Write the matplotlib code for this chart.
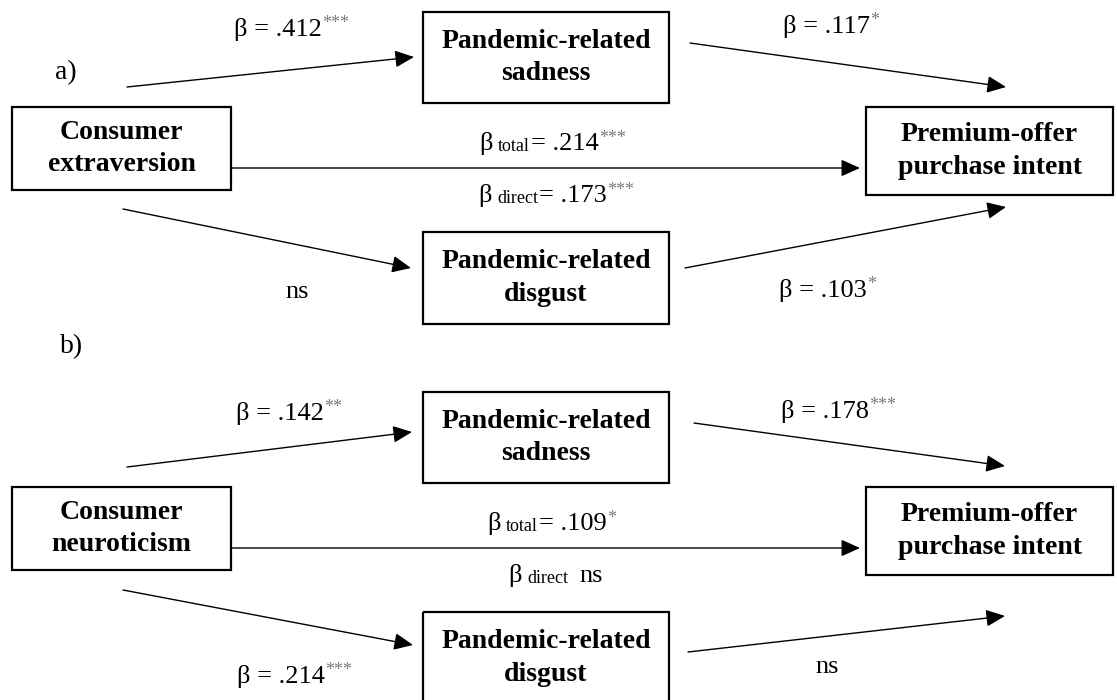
import matplotlib.pyplot as plt
from matplotlib.patches import Rectangle

# Données du schéma (deux panneaux)
panel_tags = ['a)', 'b)']
predictors = ['Consumer\nextraversion', 'Consumer\nneuroticism']
mediators = ['Pandemic-related\nsadness', 'Pandemic-related\ndisgust']
outcome = 'Premium-offer\npurchase intent'

beta_to_sadness = ['.412', '.142']
stars_to_sadness = ['***', '**']
beta_sadness_out = ['.117', '.178']
stars_sadness_out = ['*', '***']
beta_to_disgust = ['ns', '.214']
stars_to_disgust = ['', '***']
beta_disgust_out = ['.103', 'ns']
stars_disgust_out = ['*', '']
beta_total = ['.214', '.109']
stars_total = ['***', '*']
beta_direct = ['.173', 'ns']
stars_direct = ['***', '']

plt.rcParams['font.family'] = ['Liberation Serif', 'DejaVu Serif']

FS = 19        # taille du texte
FS_SUB = 13    # indices
FS_STAR = 13   # etoiles
STAR = '#7a7a7a'

fig = plt.figure(figsize=(11.17, 7), dpi=100)
ax = fig.add_axes([0, 0, 1, 1])
ax.set_xlim(0, 1117)
ax.set_ylim(700, 0)
ax.axis('off')


def chain(x, y, parts):
    # parts : (texte, taille, couleur, type, ecart)
    txt, size, color, kind, gap = parts[0]
    prev = ax.text(x, y, txt, fontsize=size, color=color, ha='left', va='baseline')
    for txt, size, color, kind, gap in parts[1:]:
        if not txt:
            continue
        if kind == 'sup':
            prev = ax.annotate(txt, xy=(1, 1), xycoords=prev, xytext=(gap, 2),
                               textcoords='offset points', fontsize=size, color=color,
                               ha='left', va='top')
        else:
            prev = ax.annotate(txt, xy=(1, 0), xycoords=prev, xytext=(gap, 0),
                               textcoords='offset points', fontsize=size, color=color,
                               ha='left', va='bottom')


def path_label(x, y, val, star):
    if val == 'ns':
        chain(x, y, [('ns', FS, 'black', 'base', 0)])
    else:
        chain(x, y, [('β = ' + val, FS, 'black', 'base', 0),
                     (star, FS_STAR, STAR, 'sup', 0.3)])


def effect_label(x, y, sub, val, star):
    parts = [('β', FS, 'black', 'base', 0), (sub, FS_SUB, 'black', 'sub', 4)]
    if val == 'ns':
        parts.append(('ns', FS, 'black', 'base', 8))
    else:
        parts.append(('= ' + val, FS, 'black', 'base', 1))
        parts.append((star, FS_STAR, STAR, 'sup', 0.3))
    chain(x, y, parts)


def box(x0, y0, x1, y1, label):
    ax.add_patch(Rectangle((x0, y0), x1 - x0, y1 - y0, fill=False, lw=1.6,
                           edgecolor='black', clip_on=True))
    ax.text((x0 + x1) / 2, (y0 + y1) / 2, label, fontsize=20, fontweight='bold',
            ha='center', va='center', linespacing=1.42)


def arrow(start, end):
    ax.annotate('', xy=end, xytext=start,
                arrowprops=dict(arrowstyle='-|>,head_length=0.58,head_width=0.26',
                                mutation_scale=20, lw=1.0, color='black',
                                shrinkA=0, shrinkB=0))


# positions (pixels)
offsets = [0, 380]
arrows = [
    [((127, 87), (414, 57)), ((690, 43), (1006, 87)),
     ((123, 209), (411, 268)), ((685, 268), (1006, 207))],
    [((127, 467), (412, 432)), ((694, 423), (1005, 466)),
     ((123, 590), (413, 645)), ((688, 652), (1005, 616))],
]
tag_pos = [(66, 73), (72, 347)]
lab_to_sad = [(234, 36), (236, 420)]
lab_sad_out = [(783, 33), (781, 418)]
lab_total = [(479, 150), (487, 530)]
lab_direct = [(478, 202), (508, 582)]
lab_to_dis = [(285, 298), (237, 683)]
lab_dis_out = [(779, 297), (815, 673)]

for i in range(2):
    dy = offsets[i]
    ax.text(tag_pos[i][0], tag_pos[i][1], panel_tags[i], fontsize=20,
            ha='center', va='center')

    box(12, 107 + dy, 231, 190 + dy, predictors[i])
    box(423, 12 + dy, 669, 103 + dy, mediators[0])
    box(423, 232 + dy, 669, 324 + dy, mediators[1])
    box(866, 107 + dy, 1113, 195 + dy, outcome)

    for start, end in arrows[i]:
        arrow(start, end)
    arrow((231, 168 + dy), (860, 168 + dy))

    path_label(*lab_to_sad[i], beta_to_sadness[i], stars_to_sadness[i])
    path_label(*lab_sad_out[i], beta_sadness_out[i], stars_sadness_out[i])
    path_label(*lab_to_dis[i], beta_to_disgust[i], stars_to_disgust[i])
    path_label(*lab_dis_out[i], beta_disgust_out[i], stars_disgust_out[i])
    effect_label(*lab_total[i], 'total', beta_total[i], stars_total[i])
    effect_label(*lab_direct[i], 'direct', beta_direct[i], stars_direct[i])

fig.savefig('out.png', dpi=100)
